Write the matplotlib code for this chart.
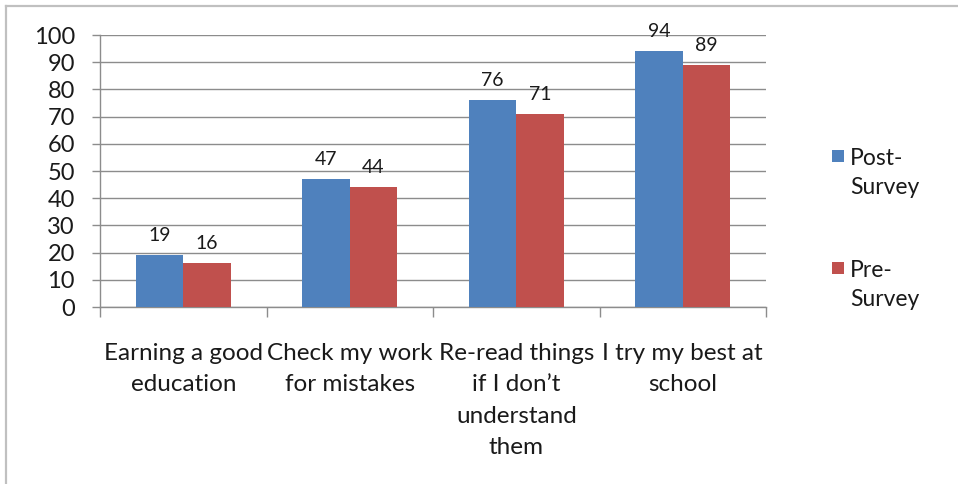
import matplotlib
matplotlib.use("Agg")
import matplotlib.pyplot as plt
from matplotlib.patches import Rectangle
from matplotlib.lines import Line2D
import numpy as np

plt.rcParams["font.family"] = ["Lato", "DejaVu Sans"]

categories = [
    "Earning a good\neducation",
    "Check my work\nfor mistakes",
    "Re-read things\nif I don\u2019t\nunderstand\nthem",
    "I try my best at\nschool",
]
post_survey = [19, 47, 76, 94]
pre_survey = [16, 44, 71, 89]
series_names = ["Post-\nSurvey", "Pre-\nSurvey"]
y_ticks = list(range(0, 101, 10))

BLUE = "#4F81BD"
RED = "#C0504D"
GRID = "#8c8c8c"
TEXT = "#1a1a1a"

W, H = 958, 484
fig = plt.figure(figsize=(W / 100, H / 100), dpi=100)

# plot area placed in pixel coordinates
left, right, top, bottom = 100, 766, 35, 307
ax = fig.add_axes([left / W, (H - bottom) / H, (right - left) / W, (bottom - top) / H])

x = np.arange(len(categories))
bw = 0.285
b1 = ax.bar(x - bw / 2, post_survey, bw, color=BLUE, zorder=3)
b2 = ax.bar(x + bw / 2, pre_survey, bw, color=RED, zorder=3)

for bars, vals in ((b1, post_survey), (b2, pre_survey)):
    for rect, v in zip(bars, vals):
        ax.annotate(str(v), (rect.get_x() + rect.get_width() / 2, v),
                    xytext=(0, 8), textcoords="offset points",
                    ha="center", va="bottom", fontsize=14, color=TEXT)

ax.set_xlim(-0.5, len(categories) - 0.5)
ax.set_ylim(0, 100)
ax.set_yticks(y_ticks)
ax.set_yticklabels([str(t) for t in y_ticks], fontsize=17, color=TEXT)
ax.yaxis.grid(True, color=GRID, linewidth=1.0, zorder=0)
ax.set_axisbelow(True)

ax.set_xticks(x)
ax.set_xticklabels(categories, fontsize=17.5, color=TEXT, linespacing=1.6)
ax.set_xticks(np.arange(-0.5, len(categories)), minor=True)
ax.tick_params(axis="x", which="major", length=0, pad=26)
ax.tick_params(axis="x", which="minor", length=7, color=GRID, width=1.0)
ax.tick_params(axis="y", length=6, color=GRID, width=1.0, pad=12)

for side in ("top", "right"):
    ax.spines[side].set_visible(False)
for side in ("left", "bottom"):
    ax.spines[side].set_color(GRID)
    ax.spines[side].set_linewidth(1.0)

# legend: swatch beside the first line of each two-line label
for i, (name, color) in enumerate(zip(series_names, (BLUE, RED))):
    y0 = 150 + i * 112
    fig.add_artist(Rectangle((832 / W, (H - y0 - 12) / H), 12 / W, 12 / H,
                             facecolor=color, edgecolor="none", transform=fig.transFigure))
    fig.text(850 / W, (H - y0 + 2) / H, name, ha="left", va="top",
             fontsize=16.5, color=TEXT, linespacing=1.5)

# outer chart frame
fig.add_artist(Line2D([6 / W, 6 / W], [0, (H - 6) / H], color="#c0c0c0", linewidth=1.6,
                      transform=fig.transFigure))
fig.add_artist(Line2D([6 / W, 1], [(H - 6) / H, (H - 6) / H], color="#c0c0c0", linewidth=1.6,
                      transform=fig.transFigure))

fig.savefig("out.png", dpi=100, facecolor="white")
